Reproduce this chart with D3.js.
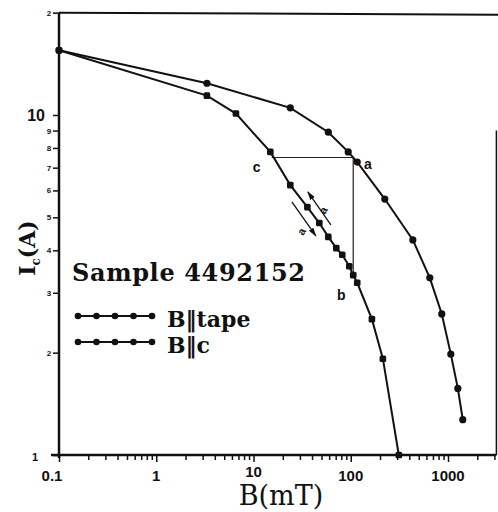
<!DOCTYPE html>
<html>
<head>
<meta charset="utf-8">
<script src="https://cdn.jsdelivr.net/npm/d3@7/dist/d3.min.js"></script>
<style>
  body { margin: 0; background: #fff; }
  svg { display: block; }
  .tick-lbl { font-family: "Liberation Sans", Arial, sans-serif; font-weight: bold; fill: #111; }
  .serif { font-family: "DejaVu Serif", serif; fill: #111; }
</style>
</head>
<body>
<div id="chart"></div>
<script>
// B || tape (circles)
var bTape = [0.1, 3.32, 23.9, 58.8, 94.2, 116.6, 224, 435, 650, 863, 1069, 1262, 1419];
var iTape = [15.5, 12.4, 10.5, 8.9, 7.79, 7.27, 5.66, 4.29, 3.32, 2.60, 1.98, 1.57, 1.27];
// B || c (squares)
var bC = [0.1, 3.32, 6.6, 14.9, 23.9, 35.8, 47.5, 58.8, 71, 81.8, 96.6, 106, 116.6, 165, 214, 312];
var iC = [15.5, 11.4, 10.1, 7.79, 6.22, 5.36, 4.81, 4.38, 4.06, 3.88, 3.59, 3.38, 3.21, 2.51, 1.92, 1.0];

var xTickVals = [0.1, 1, 10, 100, 1000];
var xTickText = ["0.1", "1", "10", "100", "1000"];
var yMinor = [2, 3, 4, 5, 6, 7, 8, 9, 20];
var yMinorText = ["2", "3", "4", "5", "6", "7", "8", "9", "2"];

// construction lines a-c-b
var boxI = 7.5, boxB = 106, boxBottom = 3.34, boxLeft = 15.4;

var width = 498, height = 512;
var svg = d3.select("#chart").append("svg")
  .attr("width", width).attr("height", height);

var x = d3.scaleLog().domain([0.1, 1000]).range([59, 448]);
var y = d3.scaleLog().domain([1, 10]).range([455, 115]);
var xMax = 3000, yMax = 20;

// frame
svg.append("line").attr("x1", x(0.1)).attr("x2", x(0.1)).attr("y1", y(1) + 3).attr("y2", y(yMax))
  .attr("stroke", "#111").attr("stroke-width", 2.5);
svg.append("line").attr("x1", x(0.1) - 8).attr("x2", x(xMax) + 2).attr("y1", y(1)).attr("y2", y(1))
  .attr("stroke", "#111").attr("stroke-width", 2.5);
svg.append("line").attr("x1", x(0.1)).attr("x2", width).attr("y1", y(yMax)).attr("y2", y(yMax) + 2)
  .attr("stroke", "#111").attr("stroke-width", 2);
svg.append("line").attr("x1", x(xMax) + 2).attr("x2", x(xMax) + 2).attr("y1", y(9)).attr("y2", y(1))
  .attr("stroke", "#111").attr("stroke-width", 1.5);

// x axis ticks (log)
var xScaleFull = x.copy().domain([0.1, xMax]).range([x(0.1), x(xMax)]);
var gx = svg.append("g").attr("transform", "translate(0," + y(1) + ")")
  .call(d3.axisBottom(xScaleFull).tickSize(4).tickFormat(""));
gx.select(".domain").remove();
gx.selectAll(".tick line").attr("stroke", "#111").attr("stroke-width", 1.5)
  .attr("y2", function(d) { return xTickVals.indexOf(d) >= 0 ? 7 : 5; });

svg.selectAll(".xlbl").data(xTickVals).enter().append("text")
  .attr("class", "tick-lbl")
  .attr("x", function(d, i) { return x(d) - (i === 0 ? 7 : 0); })
  .attr("y", function(d, i) { return i === 2 ? 477 : 481; })
  .attr("text-anchor", "middle")
  .attr("font-size", 15)
  .text(function(d, i) { return xTickText[i]; });

// y axis ticks
var gy = svg.append("g").attr("transform", "translate(" + x(0.1) + ",0)")
  .call(d3.axisLeft(y.copy().domain([1, yMax]).range([y(1), y(yMax)])).tickSize(6).tickFormat(""));
gy.select(".domain").remove();
gy.selectAll(".tick line").attr("stroke", "#111").attr("stroke-width", 1.5);

svg.selectAll(".ylbl").data(yMinor).enter().append("text")
  .attr("class", "tick-lbl")
  .attr("x", x(0.1) - 10)
  .attr("y", function(d) { return y(d) + 3; })
  .attr("text-anchor", "middle")
  .attr("font-size", 8)
  .text(function(d, i) { return yMinorText[i]; });
svg.append("text").attr("class", "tick-lbl").attr("x", x(0.1) - 14).attr("y", y(10) + 6)
  .attr("text-anchor", "end").attr("font-size", 16).text("10");
svg.append("text").attr("class", "tick-lbl").attr("x", x(0.1) - 21).attr("y", y(1) + 6)
  .attr("text-anchor", "end").attr("font-size", 11).text("1");

// axis titles
svg.append("text").attr("class", "serif").attr("x", 281).attr("y", 505)
  .attr("text-anchor", "middle").attr("font-size", 27)
  .text("B(mT)");
var yt = svg.append("text").attr("class", "serif")
  .attr("transform", "translate(35,248) rotate(-90)")
  .attr("text-anchor", "middle").attr("font-size", 22).attr("font-weight", "bold");
yt.append("tspan").text("I");
yt.append("tspan").attr("font-size", 12).attr("dy", 5).text("c");
yt.append("tspan").attr("dy", -5).text("(A)");

// construction lines
svg.append("path")
  .attr("d", "M" + x(boxLeft) + "," + y(boxI) + "H" + x(boxB) + "V" + y(boxBottom))
  .attr("fill", "none").attr("stroke", "#222").attr("stroke-width", 1.2);

// curves
var line = d3.line().x(function(d) { return x(d[0]); }).y(function(d) { return y(d[1]); });
var tapePts = d3.zip(bTape, iTape), cPts = d3.zip(bC, iC);

svg.append("path").datum(tapePts).attr("d", line)
  .attr("fill", "none").attr("stroke", "#111").attr("stroke-width", 2);
svg.append("path").datum(cPts).attr("d", line)
  .attr("fill", "none").attr("stroke", "#111").attr("stroke-width", 2);

svg.selectAll(".ptT").data(tapePts).enter().append("circle")
  .attr("cx", function(d) { return x(d[0]); })
  .attr("cy", function(d) { return y(d[1]); })
  .attr("r", 3.6).attr("fill", "#111");
svg.selectAll(".ptC").data(cPts).enter().append("rect")
  .attr("x", function(d) { return x(d[0]) - 3.3; })
  .attr("y", function(d) { return y(d[1]) - 3.3; })
  .attr("width", 6.6).attr("height", 6.6).attr("rx", 1.5).attr("fill", "#111");

// arrows along the B||c curve
svg.append("defs").append("marker").attr("id", "ah")
  .attr("viewBox", "0 0 10 10").attr("refX", 9).attr("refY", 5)
  .attr("markerWidth", 7).attr("markerHeight", 7).attr("orient", "auto")
  .append("path").attr("d", "M0,2L10,5L0,8Z").attr("fill", "#111");
var arrows = [[[24.8, 5.55], [43.8, 4.41]], [[62.5, 4.75], [36.2, 5.94]]];
svg.selectAll(".arr").data(arrows).enter().append("line")
  .attr("x1", function(d) { return x(d[0][0]); }).attr("y1", function(d) { return y(d[0][1]); })
  .attr("x2", function(d) { return x(d[1][0]); }).attr("y2", function(d) { return y(d[1][1]); })
  .attr("stroke", "#111").attr("stroke-width", 1.3).attr("marker-end", "url(#ah)");
var arrowLbl = [[31, 4.55], [52, 5.25]];
svg.selectAll(".arrl").data(arrowLbl).enter().append("text")
  .attr("class", "tick-lbl").attr("font-size", 11).attr("text-anchor", "middle")
  .attr("transform", function(d) { return "translate(" + x(d[0]) + "," + y(d[1]) + ") rotate(-60)"; })
  .attr("dy", 4).text("a");

// point labels
var ptLabels = [["a", 150, 7.2], ["c", 10.8, 7.05], ["b", 80, 2.95]];
svg.selectAll(".plbl").data(ptLabels).enter().append("text")
  .attr("class", "tick-lbl").attr("font-size", 14).attr("text-anchor", "middle")
  .attr("x", function(d) { return x(d[1]); }).attr("y", function(d) { return y(d[2]) + 5; })
  .text(function(d) { return d[0]; });

// legend
svg.append("text").attr("class", "serif").attr("font-weight", "bold")
  .attr("x", 72).attr("y", 281).attr("font-size", 24).attr("textLength", 233)
  .text("Sample  4492152");
var legend = [["B\u2016tape", 316], ["B\u2016c", 342]];
legend.forEach(function(l) {
  svg.append("line").attr("x1", 78).attr("x2", 152).attr("y1", l[1]).attr("y2", l[1])
    .attr("stroke", "#111").attr("stroke-width", 2);
  svg.selectAll(null).data(d3.range(5)).enter().append("circle")
    .attr("cx", function(i) { return 78 + i * 18.5; }).attr("cy", l[1])
    .attr("r", 3.3).attr("fill", "#111");
  svg.append("text").attr("class", "serif").attr("font-weight", "bold")
    .attr("x", 167).attr("y", l[1] + 11).attr("font-size", 22)
    .text(l[0]);
});
</script>
</body>
</html>
